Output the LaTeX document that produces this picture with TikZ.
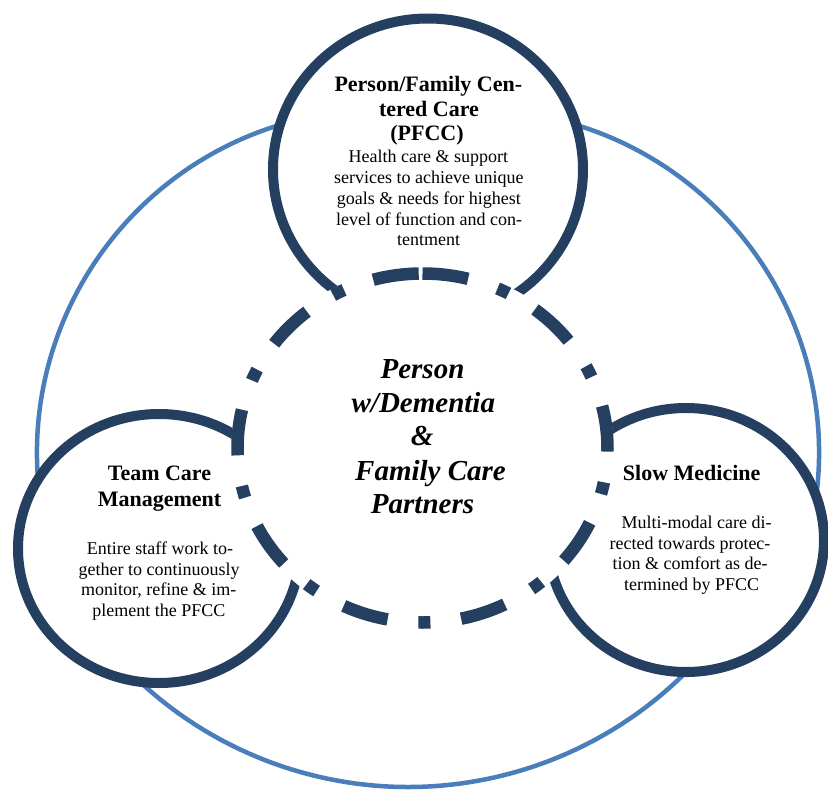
\documentclass[tikz,border=0pt]{standalone}
\usepackage{fontspec}
\setmainfont{Liberation Serif}
\definecolor{navy}{HTML}{243F60}
\definecolor{accentblue}{HTML}{4A7EBB}
\tikzset{
  ring/.style={draw=navy, line width=10pt, fill=white},
  link/.style={draw=accentblue, line width=4.5pt},
  coredash/.style={draw=navy, line width=12.5pt, dash pattern=on 46pt off 31pt on 12pt off 31pt},
  ttl/.style={anchor=base, inner sep=0pt, text=black, font=\fontsize{22}{26}\selectfont\bfseries},
  body/.style={anchor=base, inner sep=0pt, text=black, font=\fontsize{18}{21}\selectfont},
  core/.style={anchor=base, inner sep=0pt, text=black, font=\fontsize{29}{34}\selectfont\bfseries\itshape},
}
\begin{document}
\begin{tikzpicture}[x=1pt, y=-1pt]
\useasboundingbox (0,0) rectangle (828,790);
\clip (0,0) rectangle (828,790);
% centres
\coordinate (cTop) at (428,169.5);
\coordinate (cLeft) at (159,548.5);
\coordinate (cRight) at (686,540);
\coordinate (cCore) at (422.5,448);
% light blue links behind the rings
\draw[link] (380,453) ++(-100:343) arc[start angle=-100, end angle=-190, radius=343];
\draw[link] (476,453) ++(-80:343) arc[start angle=-80, end angle=10, radius=343];
\draw[link] (408,393) ++(137:394) arc[start angle=137, end angle=40, radius=394];
% rings
\path[ring] (cTop) ellipse[x radius=155, y radius=151];
\path[ring] (cLeft) ellipse[x radius=141, y radius=134.5];
\path[ring] (cRight) ellipse[x radius=138, y radius=132];
% core
\fill[white] (cCore) ellipse[x radius=191, y radius=180.5];
\draw[coredash] (cCore) ++(0,-174.5) arc[start angle=-90, end angle=270, x radius=185, y radius=174.5];
% top ring text
\node[ttl] (pfcc1) at (428.3,91.7) {Person/Family Cen-};
\node[ttl] (pfcc2) at (429,116) {tered Care};
\node[ttl] (pfcc3) at (427,140) {(PFCC)};
\node[body] (pfccb1) at (428.3,162.7) {Health care \& support};
\node[body] (pfccb2) at (428.8,183.5) {services to achieve unique};
\node[body] (pfccb3) at (428.8,204.3) {goals \& needs for highest};
\node[body] (pfccb4) at (429,225.1) {level of function and con-};
\node[body] (pfccb5) at (428.7,245.9) {tentment};
% left ring text
\node[ttl] (tcm1) at (159.5,480.7) {Team Care};
\node[ttl] (tcm2) at (159.5,506.7) {Management};
\node[body] (tcmb1) at (160,554.3) {Entire staff work to-};
\node[body] (tcmb2) at (159.2,575.1) {gether to continuously};
\node[body] (tcmb3) at (158.8,595.9) {monitor, refine \& im-};
\node[body] (tcmb4) at (158.8,616.7) {plement the PFCC};
% right ring text
\node[ttl] (slow1) at (691.7,480.7) {Slow Medicine};
\node[body] (slowb1) at (696.7,528.3) {Multi-modal care di-};
\node[body] (slowb2) at (690,549.1) {rected towards protec-};
\node[body] (slowb3) at (690,569.9) {tion \& comfort as de-};
\node[body] (slowb4) at (691.7,590.7) {termined by PFCC};
% core text
\node[core] (pwd1) at (422.5,378.3) {Person};
\node[core] (pwd2) at (423.3,412.3) {w/Dementia};
\node[core] (pwd3) at (422.2,445) {\&};
\node[core] (pwd4) at (430.5,480) {Family Care};
\node[core] (pwd5) at (422.5,513.3) {Partners};
\end{tikzpicture}
\end{document}
